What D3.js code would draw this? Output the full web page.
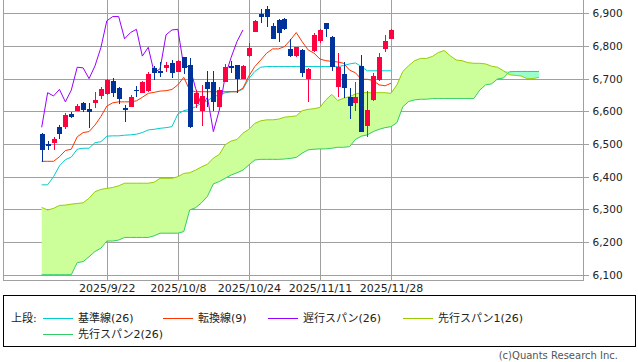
<!DOCTYPE html>
<html><head><meta charset="utf-8">
<script src="https://cdn.jsdelivr.net/npm/d3@7"></script>
<style>body{margin:0;background:#fff}svg{display:block}text{font-family:"DejaVu Sans","Noto Sans CJK JP",sans-serif}</style>
</head><body><svg id="c" width="638" height="362"></svg>
<script>
const opens  = [6531,6500,6502,6552,6552,6593,6601,6626,6608,6625,6647,6653,6693,6672,6610,6614,6665,6657,6661,6732,6723,6734,6749,6721,6765,6742,6622,6602,6690,6690,6614,6690,6738,6742,6700,6769,6844,6898,6912,6861,6880,6882,6791,6769,6788,6698,6786,6816,6869,6828,6674,6714,6645,6626,6739,6555,6635,6696,6792,6822];
const highs  = [6533,6508,6521,6557,6596,6599,6622,6630,6625,6658,6674,6700,6701,6674,6618,6650,6678,6692,6720,6739,6752,6751,6757,6757,6767,6764,6665,6681,6724,6724,6675,6745,6755,6742,6741,6810,6880,6913,6922,6869,6882,6885,6820,6798,6790,6732,6839,6852,6871,6831,6780,6751,6671,6691,6772,6663,6718,6780,6834,6851];
const lows   = [6444,6482,6482,6516,6547,6579,6600,6598,6548,6611,6637,6650,6645,6622,6568,6612,6645,6655,6660,6696,6705,6721,6701,6719,6714,6550,6609,6555,6612,6601,6612,6689,6716,6655,6699,6767,6843,6871,6859,6820,6813,6849,6765,6767,6706,6630,6783,6810,6828,6724,6645,6640,6576,6602,6536,6522,6633,6694,6783,6820];
const closes = [6482,6495,6514,6532,6589,6583,6616,6604,6599,6636,6667,6696,6657,6639,6604,6644,6661,6690,6714,6716,6717,6741,6716,6754,6734,6551,6657,6647,6667,6629,6665,6735,6733,6700,6739,6795,6877,6890,6890,6822,6841,6851,6769,6796,6718,6730,6834,6849,6851,6737,6737,6670,6616,6643,6538,6604,6708,6765,6814,6849];
const kijun  = [6375,6375,6400,6433,6452,6460,6484,6487,6487,6504,6507,6524,6525,6525,6527,6528,6530,6535,6543,6545,6548,6550,6553,6592,6602,6606,6614,6625,6632,6645,6650,6657,6660,6660,6668,6700,6722,6735,6737,6737,6737,6737,6737,6737,6737,6737,6737,6737,6737,6737,6737,6740,6745,6748,6737,6724,6724,6724,6724,6724];
const tenkan = [6447,6447,6447,6461,6480,6484,6522,6535,6538,6558,6584,6616,6626,6629,6629,6629,6632,6643,6655,6658,6662,6663,6667,6681,6704,6665,6660,6660,6660,6660,6660,6660,6660,6660,6671,6708,6737,6757,6778,6791,6791,6798,6818,6841,6813,6788,6778,6760,6755,6753,6751,6747,6726,6718,6698,6698,6694,6681,6678,6686];
const chikou = [6551,6657,6647,6667,6629,6665,6735,6733,6700,6739,6795,6877,6890,6890,6822,6841,6851,6769,6796,6718,6730,6834,6849,6851,6737,6737,6670,6616,6643,6538,6604,6708,6765,6814,6849];
const span1  = [6306,6298,6303,6312,6313,6316,6318,6320,6334,6354,6361,6364,6367,6372,6380,6380,6380,6380,6380,6383,6395,6395,6395,6400,6410,6412,6420,6430,6438,6457,6468,6498,6509,6514,6533,6545,6563,6571,6574,6574,6576,6582,6584,6586,6602,6606,6608,6612,6635,6652,6633,6640,6645,6653,6657,6657,6657,6657,6657,6655,6681,6722,6740,6755,6762,6762,6768,6780,6786,6770,6757,6755,6749,6747,6747,6745,6738,6735,6724,6712,6710,6708,6700,6700,6704];
const span2  = [6100,6100,6100,6100,6100,6100,6137,6140,6155,6171,6181,6203,6203,6206,6214,6214,6214,6214,6214,6219,6227,6227,6227,6227,6232,6298,6305,6320,6340,6378,6385,6395,6405,6412,6420,6436,6451,6453,6453,6453,6453,6454,6456,6459,6472,6482,6484,6485,6485,6487,6490,6490,6492,6514,6524,6528,6538,6545,6550,6553,6565,6614,6630,6635,6637,6637,6639,6639,6639,6639,6639,6639,6639,6639,6665,6681,6684,6699,6702,6721,6722,6722,6722,6722,6722];
const dateTickIndex = [11,23,35,47,59];
const dateLabels = ["2025/9/22","2025/10/8","2025/10/24","2025/11/11","2025/11/28"];
const priceTicks = [6100,6200,6300,6400,6500,6600,6700,6800,6900];
const legendItems = [
  {label:"基準線(26)", color:"#00cccc"},
  {label:"転換線(9)", color:"#ff3300"},
  {label:"遅行スパン(26)", color:"#9900ff"},
  {label:"先行スパン1(26)", color:"#99cc00"},
  {label:"先行スパン2(26)", color:"#33cc66"}
];

const svg = d3.select("#c");
const L = 3, R = 583, B = 280;
const x = d3.scaleLinear().domain([0, 84]).range([41.7, 41.7 + 84 * 5.92]);
const y = d3.scaleLinear().domain([6100, 6900]).range([274.7, 13.3]);

// grid
const g = svg.append("g").attr("shape-rendering","crispEdges");
g.selectAll(".hg").data(priceTicks).enter().append("line")
  .attr("x1", L).attr("x2", R).attr("y1", d => Math.round(y(d)) + 0.5).attr("y2", d => Math.round(y(d)) + 0.5)
  .attr("stroke", "#a0a0a0");
g.selectAll(".vg").data(dateTickIndex).enter().append("line")
  .attr("x1", d => Math.round(x(d)) + 0.5).attr("x2", d => Math.round(x(d)) + 0.5).attr("y1", 0).attr("y2", B)
  .attr("stroke", "#a0a0a0");
g.append("path").attr("d", `M${L+0.5},0V${B+0.5}H${R+0.5}V0`).attr("fill","none").attr("stroke","#a0a0a0");

// y axis (right)
const ya = svg.append("g").attr("transform", `translate(${R+0.5},0)`);
ya.call(d3.axisRight(y).tickValues(priceTicks).tickSize(5).tickPadding(4).tickFormat(d3.format(",")));
ya.select(".domain").remove();
ya.selectAll("line").attr("stroke","#a0a0a0").attr("shape-rendering","crispEdges");
ya.selectAll("text").style("font-size","10.5px").attr("fill","#222");

// x axis labels
const xa = svg.append("g").attr("transform", `translate(0,${B})`);
xa.call(d3.axisBottom(x).tickValues(dateTickIndex).tickSize(0).tickPadding(4).tickFormat((d,i) => dateLabels[i]));
xa.select(".domain").remove();
xa.selectAll("text").style("font-size","11px").attr("fill","#222");

// kumo
const idx = d3.range(span1.length);
svg.append("path").datum(idx)
  .attr("d", d3.area().x(i => x(i)).y0(i => y(span2[i])).y1(i => y(Math.max(span1[i], span2[i]))))
  .attr("fill", "#ccff99");
svg.append("path").datum(idx)
  .attr("d", d3.area().x(i => x(i)).y0(i => y(span1[i])).y1(i => y(Math.max(span1[i], span2[i]))))
  .attr("fill", "#99ffcc");

function drawLine(arr, color) {
  svg.append("path").datum(arr)
    .attr("d", d3.line().x((d,i) => x(i)).y(d => y(d)))
    .attr("fill","none").attr("stroke", color).attr("stroke-width", 1);
}
drawLine(span2, "#33cc66");
drawLine(span1, "#99cc00");
drawLine(kijun, "#00cccc");
drawLine(tenkan, "#ff3300");
drawLine(chikou, "#9900ff");

// candles
const cg = svg.append("g").attr("shape-rendering","crispEdges");
const candles = d3.range(closes.length);
const col = i => closes[i] >= opens[i] ? "#ff0040" : "#003399";
cg.selectAll(".w").data(candles).enter().append("line")
  .attr("x1", i => Math.round(x(i)) + 0.5).attr("x2", i => Math.round(x(i)) + 0.5)
  .attr("y1", i => y(highs[i])).attr("y2", i => y(lows[i]))
  .attr("stroke", col);
cg.selectAll(".b").data(candles).enter().append("rect")
  .attr("x", i => Math.round(x(i)) - 2).attr("width", 5)
  .attr("y", i => y(Math.max(opens[i], closes[i])))
  .attr("height", i => Math.max(1, y(Math.min(opens[i], closes[i])) - y(Math.max(opens[i], closes[i]))))
  .attr("fill", col);

// legend
svg.append("rect").attr("x", 3.5).attr("y", 295.5).attr("width", 632).attr("height", 51)
  .attr("fill","none").attr("stroke","#000").attr("shape-rendering","crispEdges");
svg.append("text").attr("x", 11).attr("y", 322).style("font-size","11px").attr("fill","#222").text("上段:");
const lpos = [[43,318],[163,318],[268,318],[403,318],[43,334]];
legendItems.forEach((it, k) => {
  const [lx, ly] = lpos[k];
  svg.append("line").attr("x1", lx).attr("x2", lx + 30).attr("y1", ly + 0.5).attr("y2", ly + 0.5)
    .attr("stroke", it.color).attr("shape-rendering","crispEdges");
  svg.append("text").attr("x", lx + 35).attr("y", ly + 4).style("font-size","11px").attr("fill","#222").text(it.label);
});
svg.append("text").attr("x", 618).attr("y", 359).attr("text-anchor","end").style("font-size","10px").attr("fill","#555").text("(c)Quants Research Inc.");
</script></body></html>
